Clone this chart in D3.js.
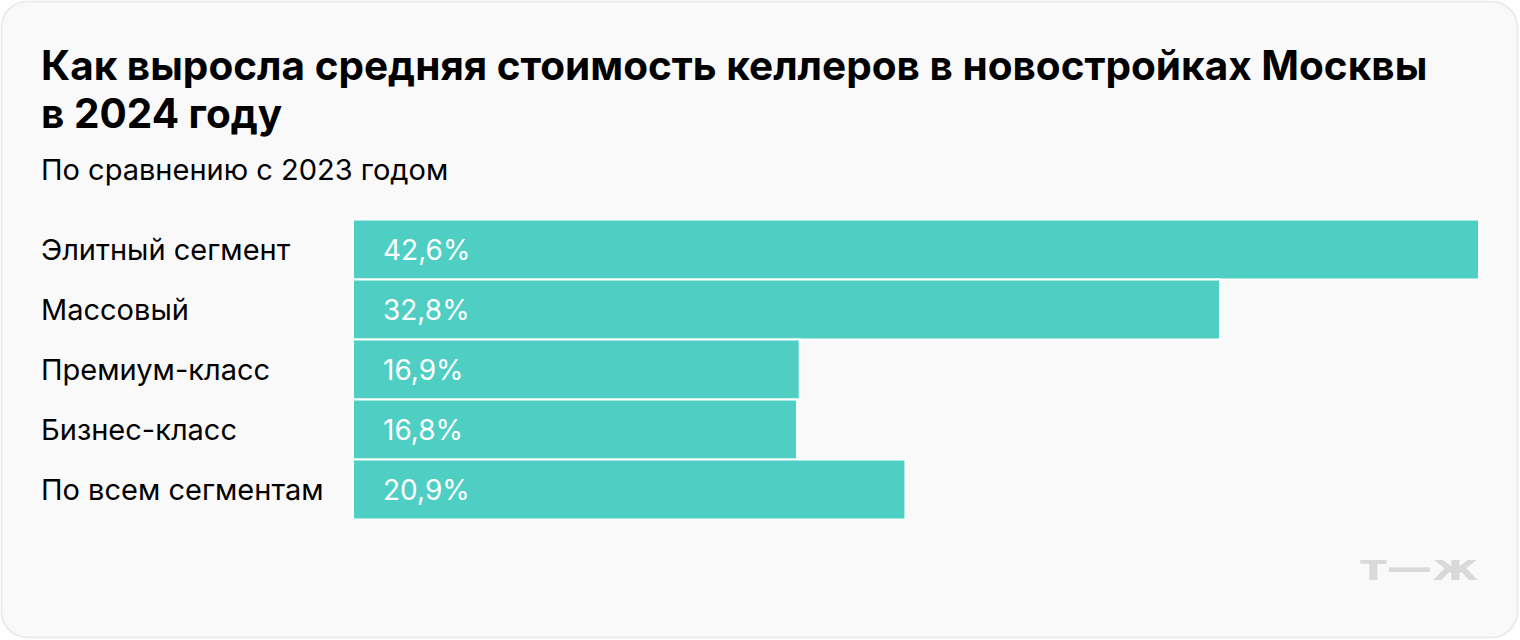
<!DOCTYPE html>
<html><head><meta charset="utf-8">
<script src="https://cdn.jsdelivr.net/npm/d3@7"></script>
<style>
html,body{margin:0;padding:0;background:#fff;}
svg{display:block;}
</style></head>
<body>
<svg id="chart" width="1520" height="640"></svg>
<script>
const categories = ["Элитный сегмент", "Массовый", "Премиум-класс", "Бизнес-класс", "По всем сегментам"];
const values = [42.6, 32.8, 16.9, 16.8, 20.9];
const valueLabels = ["42,6%", "32,8%", "16,9%", "16,8%", "20,9%"];
const titleLines = ["Как выросла средняя стоимость келлеров в новостройках Москвы", "в 2024 году"];
const subtitle = "По сравнению с 2023 годом";

const svg = d3.select("#chart");
const font = "Inter, 'Noto Sans', sans-serif";

svg.append("rect").attr("x", 1.5).attr("y", 1.5).attr("width", 1516).attr("height", 636)
  .attr("rx", 26).attr("fill", "#f9f9f9").attr("stroke", "#e8e8e8").attr("stroke-width", 1.5);

svg.selectAll("text.title").data(titleLines).join("text")
  .attr("class", "title").attr("x", 41).attr("y", (d, i) => 80 + i * 48)
  .attr("font-family", font).attr("font-weight", 700).attr("font-size", 40.5)
  .attr("fill", "#000").text(d => d);

svg.append("text").attr("x", 41).attr("y", 180)
  .attr("font-family", font).attr("font-size", 29).attr("fill", "#000").text(subtitle);

const x = d3.scaleLinear().domain([0, 42.6]).range([353, 1479]);
const y = d3.scaleBand().domain(categories).range([219.5, 519.5]).padding(0);

svg.selectAll("rect.bar").data(values).join("rect")
  .attr("class", "bar")
  .attr("x", x(0)).attr("y", (d, i) => y(categories[i]))
  .attr("width", d => x(d) - x(0)).attr("height", y.bandwidth())
  .attr("fill", "#4fcec4").attr("stroke", "#ffffff").attr("stroke-width", 2);

svg.selectAll("text.cat").data(categories).join("text")
  .attr("class", "cat").attr("x", 41).attr("y", d => y(d) + y.bandwidth() / 2 + 10.5)
  .attr("font-family", font).attr("font-size", 29).attr("fill", "#000").text(d => d);

svg.selectAll("text.val").data(valueLabels).join("text")
  .attr("class", "val").attr("x", 383).attr("y", (d, i) => y(categories[i]) + y.bandwidth() / 2 + 10)
  .attr("font-family", font).attr("font-size", 28).attr("fill", "#fff").text(d => d);

svg.append("text").attr("x", 1360).attr("y", 580)
  .attr("font-family", "'DejaVu Sans', sans-serif").attr("font-weight", 700).attr("font-size", 36)
  .attr("fill", "#d9d9d9").attr("textLength", 118).attr("lengthAdjust", "spacingAndGlyphs").text("т—ж");
</script>
</body></html>
